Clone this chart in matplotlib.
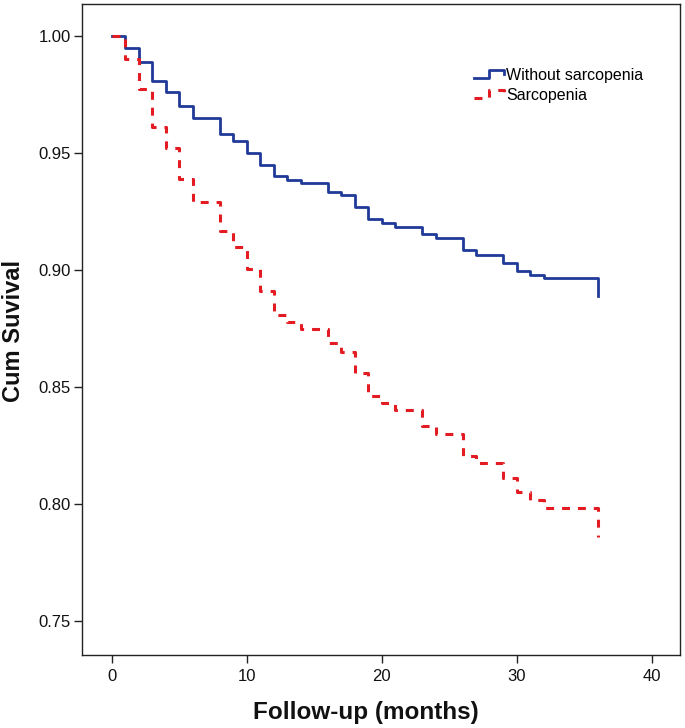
import matplotlib
matplotlib.use("Agg")
import matplotlib.pyplot as plt
from matplotlib.lines import Line2D
from matplotlib.legend_handler import HandlerBase

# ---- data ----
months = [0, 1, 2, 3, 4, 5, 6, 8, 9, 10, 11, 12, 13, 14, 16, 17, 18, 19, 20,
          21, 23, 24, 26, 27, 29, 30, 31, 32, 36]
surv_without = [1.000, 0.995, 0.989, 0.981, 0.976, 0.970, 0.965, 0.958, 0.955,
                0.950, 0.945, 0.940, 0.9385, 0.937, 0.9335, 0.932, 0.927, 0.922,
                0.920, 0.9185, 0.9155, 0.9135, 0.9085, 0.9065, 0.903, 0.8995,
                0.898, 0.8965, 0.889]
surv_sarco = [1.000, 0.990, 0.9775, 0.961, 0.952, 0.939, 0.929, 0.9165, 0.910,
              0.9005, 0.891, 0.881, 0.878, 0.875, 0.8687, 0.865, 0.856, 0.846,
              0.843, 0.840, 0.8335, 0.830, 0.8207, 0.8175, 0.811, 0.805,
              0.8017, 0.7985, 0.786]
labels = ["Without sarcopenia", "Sarcopenia"]
xticks = [0, 10, 20, 30, 40]
yticks = [0.75, 0.80, 0.85, 0.90, 0.95, 1.00]
ytick_labels = ["0.75", "0.80", "0.85", "0.90", "0.95", "1.00"]

plt.rcParams['font.family'] = ['Liberation Sans', 'DejaVu Sans']

fig = plt.figure(figsize=(6.85, 7.28), dpi=100)
ax = fig.add_axes([82/685, 1 - 655/728, 598/685, 651/728])

blue = '#1f3a98'
red = '#e31b23'

l1, = ax.plot(months, surv_without, drawstyle='steps-post', color=blue,
              lw=2.0, zorder=2, label=labels[0])
l2, = ax.plot(months, surv_sarco, drawstyle='steps-post', color=red,
              lw=2.2, ls=(0, (2.6, 2.6)), zorder=3, label=labels[1])

ax.set_xlim(-2.2, 42.1)
ax.set_ylim(0.7355, 1.0137)
ax.set_xticks(xticks)
ax.set_xticklabels([str(t) for t in xticks])
ax.set_yticks(yticks)
ax.set_yticklabels(ytick_labels)

for s in ax.spines.values():
    s.set_color('#222222')
    s.set_linewidth(1.0)
ax.tick_params(axis='both', direction='out', length=6, width=1.0,
               color='#222222', labelsize=12, labelcolor='#111111', pad=2)
ax.tick_params(axis='x', pad=4)

ax.set_xlabel("Follow-up (months)", fontsize=17.5, fontweight='bold', color='#111111')
ax.xaxis.set_label_coords(0.475, -0.089)
ax.xaxis.label.set_verticalalignment('center')
ax.set_ylabel("Cum Suvival", fontsize=17, fontweight='bold', color='#111111')
ax.yaxis.set_label_coords(-0.114, 0.498)
ax.yaxis.label.set_verticalalignment('center')


class HandlerStep(HandlerBase):
    def create_artists(self, legend, orig_handle, xdescent, ydescent,
                       width, height, fontsize, trans):
        x0 = -xdescent
        y0 = -ydescent
        xs = [x0, x0 + 0.5 * width, x0 + 0.5 * width, x0 + width, x0 + width]
        ys = [y0 + 0.2 * height, y0 + 0.2 * height, y0 + 0.9 * height,
              y0 + 0.9 * height, y0 + 0.5 * height]
        line = Line2D(xs, ys)
        self.update_prop(line, orig_handle, legend)
        line.set_drawstyle('default')
        line.set_transform(trans)
        return [line]


ax.legend(handles=[l1, l2], labels=labels, frameon=False, loc='upper left',
          bbox_to_anchor=((466 - 82) / 598, (655 - 60) / 651),
          borderpad=0, handlelength=1.9, handletextpad=0.1,
          labelspacing=0.3, fontsize=11.5,
          handler_map={Line2D: HandlerStep()})

fig.savefig("out.png", dpi=100)
